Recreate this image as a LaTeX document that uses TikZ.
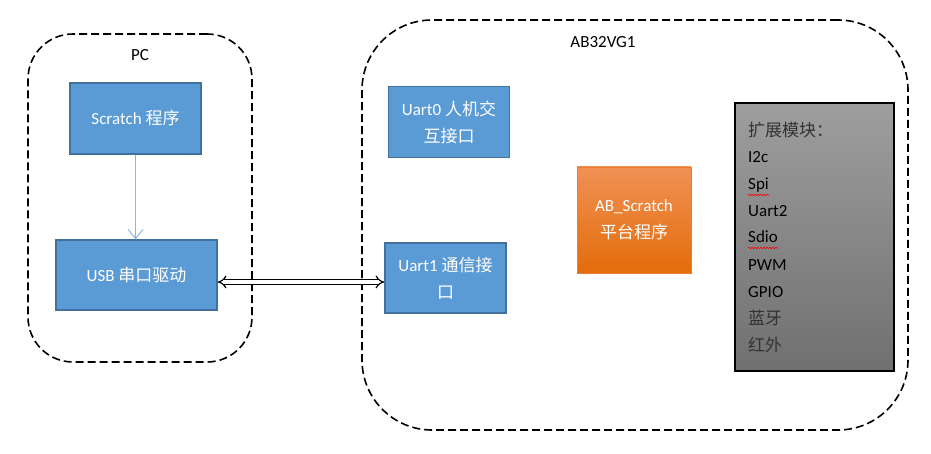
\documentclass[tikz,border=0pt]{standalone}
\usepackage{fontspec}
\setmainfont{Carlito}
\newfontfamily\cjk{Noto Sans CJK SC}
\usetikzlibrary{arrows.meta,decorations.pathmorphing}
\definecolor{boxblue}{RGB}{91,155,213}
\definecolor{boxedge}{RGB}{65,113,156}
\definecolor{arrowblue}{RGB}{141,180,226}
\definecolor{orangetop}{RGB}{240,145,85}
\definecolor{orangebot}{RGB}{228,108,10}
\definecolor{orangeedge}{RGB}{237,125,49}
\definecolor{graytop}{RGB}{158,158,158}
\definecolor{graybot}{RGB}{112,112,112}
\definecolor{cjkgray}{RGB}{50,50,50}
\begin{document}
\begin{tikzpicture}[x=1pt,y=-1pt,
  every node/.style={font=\fontsize{17}{27}\selectfont},
  group/.style={draw=black, line width=1.6pt, dash pattern=on 8pt off 4pt, inner sep=0pt},
  bluebox/.style={draw=boxedge, fill=boxblue, line width=1.5pt, text=white, align=center, inner sep=0pt},
  orangebox/.style={draw=orangeedge, line width=0.8pt, top color=orangetop, bottom color=orangebot, text=white, align=center, inner sep=0pt},
  graybox/.style={draw=black, line width=1.2pt, top color=graytop, bottom color=graybot, inner sep=0pt},
  item/.style={anchor=base west, inner sep=0pt, text=black},
  spell/.style={draw=red, line width=0.6pt, decorate, decoration={snake, amplitude=0.8pt, segment length=3pt}}
]
\useasboundingbox (0,0) rectangle (931,454);

% groups
\node[group, rounded corners=45pt, minimum width=224pt, minimum height=328pt] (pc) at (140,198) {};
\node[group, rounded corners=70pt, minimum width=546pt, minimum height=410pt] (ab) at (635,225) {};
\node[text=black] (pclabel) at (140,55) {PC};
\node[text=black] (ablabel) at (603,42) {AB32VG1};

% PC boxes
\node[bluebox, minimum width=131pt, minimum height=71pt] (scr) at (135.5,118.5) {Scratch {\cjk 程序}};
\node[bluebox, minimum width=161pt, minimum height=70pt] (usb) at (136.5,275) {USB {\cjk 串口驱动}};

% AB32VG1 boxes
\node[bluebox, minimum width=121pt, minimum height=71pt] (u0) at (449,122) {Uart0 {\cjk 人机交}\\{\cjk 互接口}};
\node[bluebox, minimum width=121pt, minimum height=70pt] (u1) at (445.5,278) {Uart1 {\cjk 通信接}\\{\cjk 口}};
\node[orangebox, minimum width=114pt, minimum height=106pt] (abs) at (634,220) {AB\_Scratch\\{\cjk 平台程序}};
\node[graybox, minimum width=159pt, minimum height=268pt] (ext) at (814.5,237) {};

% module list
\node[item, text=cjkgray] (m0) at (748,137) {\cjk 扩展模块：};
\node[item] (m1) at (748,163) {I2c};
\node[item] (m2) at (748,190) {Spi};
\node[item] (m3) at (748,217) {Uart2};
\node[item] (m4) at (748,243) {Sdio};
\node[item] (m5) at (748,270) {PWM};
\node[item] (m6) at (748,297) {GPIO};
\node[item, text=cjkgray] (m7) at (748,324) {\cjk 蓝牙};
\node[item, text=cjkgray] (m8) at (748,351) {\cjk 红外};
\draw[spell] ([yshift=-5pt]m2.base west) -- ([yshift=-5pt]m2.base east);
\draw[spell] ([yshift=-5pt]m4.base west) -- ([yshift=-5pt]m4.base east);

% connectors
\draw[arrowblue, line width=1pt, -{Straight Barb[length=9pt,width=15pt]}] (scr.south) -- (scr.south |- usb.north);
\draw[line width=1.2pt, double, double distance=3.2pt, {Implies}-{Implies}] ([yshift=-7pt]usb.east) -- ([yshift=-4pt]u1.west);
\end{tikzpicture}
\end{document}
